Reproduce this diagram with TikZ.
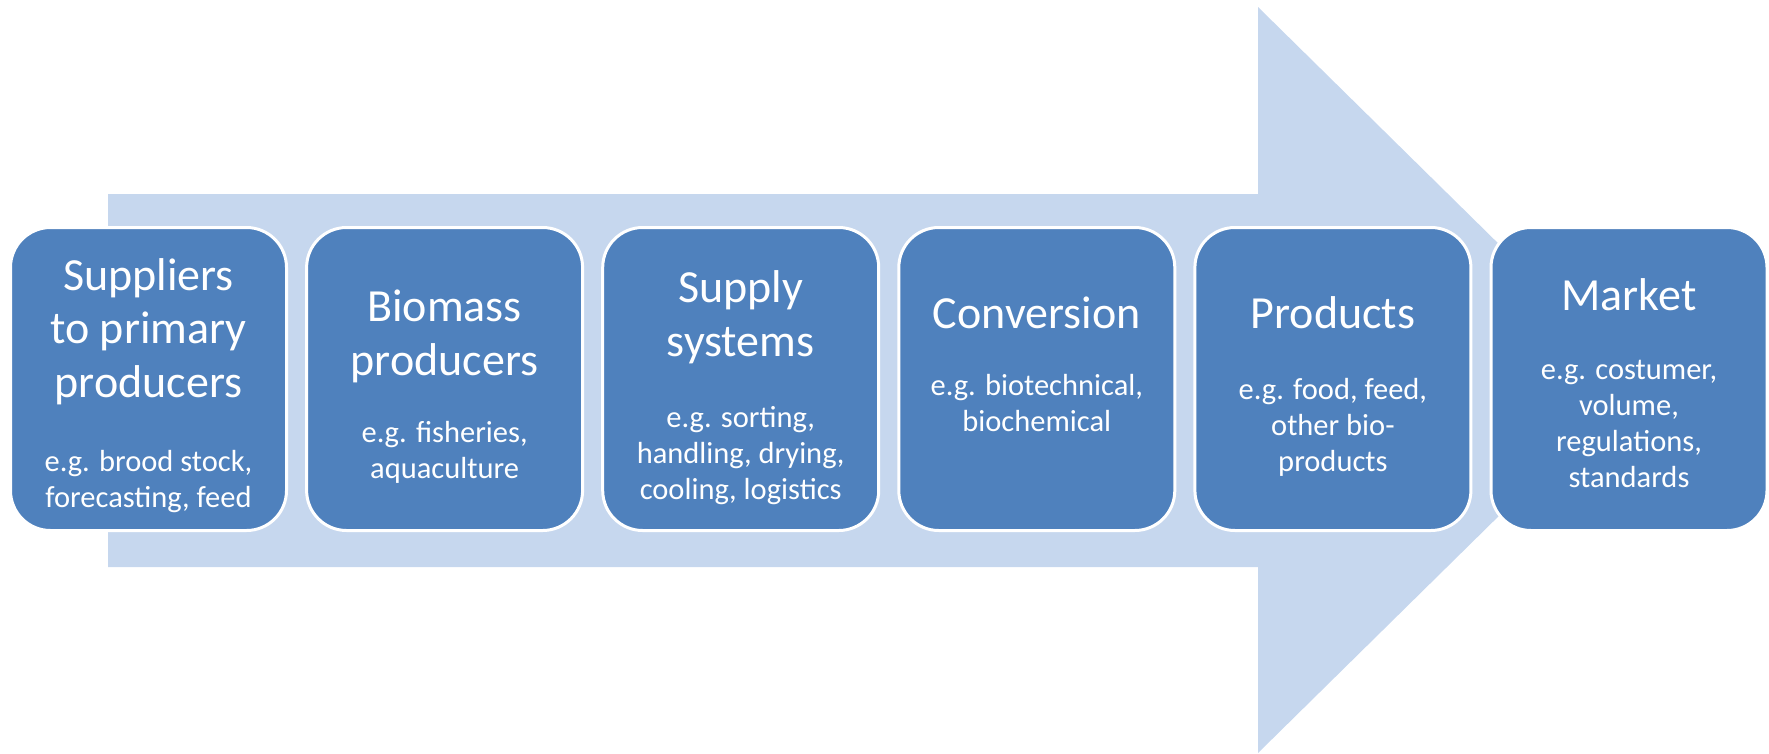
\documentclass[tikz,border=0pt]{standalone}
\usepackage{fontspec}
\setmainfont{Carlito}
\definecolor{boxblue}{HTML}{4F81BD}
\definecolor{arrowblue}{HTML}{C6D7EE}
\begin{document}
\begin{tikzpicture}[x=1pt,y=-1pt,
  stage/.style={draw=white, line width=3pt, fill=boxblue, rounded corners=40pt,
    minimum width=276pt, minimum height=303pt, inner sep=0pt},
  ttl/.style={text=white, align=center, anchor=base, inner sep=0pt,
    font=\fontsize{46}{53.5}\selectfont},
  sub/.style={text=white, align=center, anchor=base, inner sep=0pt,
    font=\fontsize{30.5}{36}\selectfont}]
\useasboundingbox (0,0) rectangle (1769,753);
\fill[arrowblue] (108,194) -- (1258,194) -- (1258,7) -- (1637,380) -- (1258,753)
  -- (1258,567) -- (108,567) -- cycle;

\node[stage] (s1) at (148.5,379) {};
\node[stage] (s2) at (444.6,379) {};
\node[stage] (s3) at (740.7,379) {};
\node[stage] (s4) at (1036.8,379) {};
\node[stage] (s5) at (1332.9,379) {};
\node[stage] (s6) at (1629,379) {};

% anchor=base sits on the baseline of the last line
\node[ttl] (t1) at (148.5,397) {Suppliers\\to primary\\producers};
\node[sub] (d1) at (148.5,507) {e.g. brood stock,\\forecasting, feed};

\node[ttl] (t2) at (444.6,375) {Biomass\\producers};
\node[sub] (d2) at (444.6,478) {e.g. fisheries,\\aquaculture};

\node[ttl] (t3) at (740.7,356) {Supply\\systems};
\node[sub] (d3) at (740.7,499) {e.g. sorting,\\handling, drying,\\cooling, logistics};

\node[ttl] (t4) at (1036.8,328) {Conversion};
\node[sub] (d4) at (1036.8,431) {e.g. biotechnical,\\biochemical};

\node[ttl] (t5) at (1332.9,328) {Products};
\node[sub] (d5) at (1332.9,471) {e.g. food, feed,\\other bio-\\products};

\node[ttl] (t6) at (1629,310) {Market};
\node[sub] (d6) at (1629,487) {e.g. costumer,\\volume,\\regulations,\\standards};
\end{tikzpicture}
\end{document}
